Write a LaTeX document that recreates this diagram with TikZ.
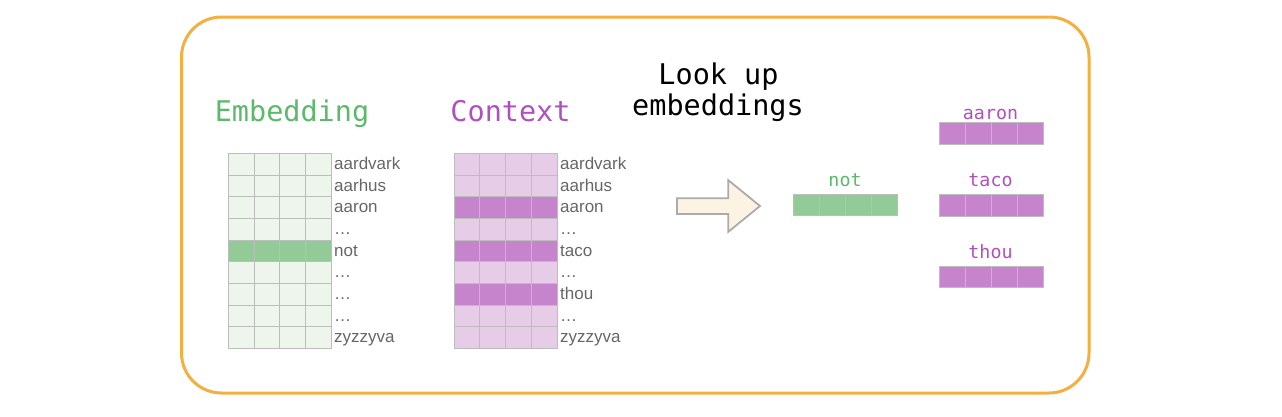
\documentclass[tikz,border=0pt]{standalone}
\usepackage{fontspec}
\setsansfont{Liberation Sans}
\newfontfamily\monofont{DejaVu Sans Mono}
\definecolor{boxorange}{HTML}{F5AF3F}
\definecolor{gridline}{HTML}{BDBDBD}
\definecolor{embLight}{HTML}{EEF5EC}
\definecolor{embDark}{HTML}{93CB98}
\definecolor{ctxLight}{HTML}{E6CCE6}
\definecolor{ctxDark}{HTML}{C584CB}
\definecolor{greenText}{HTML}{5CB96A}
\definecolor{purpleText}{HTML}{B050C0}
\definecolor{wordGray}{HTML}{666666}
\definecolor{arrowFill}{HTML}{FDF3E2}
\definecolor{arrowLine}{HTML}{ABABAB}
\tikzset{
  frame/.style={draw=boxorange, line width=3pt, rounded corners=40pt},
  cell/.style={draw=gridline, line width=0.8pt},
  word/.style={font=\sffamily\fontsize{17}{19}\selectfont, text=wordGray, inner sep=0pt, anchor=base west},
  title/.style={font=\monofont\fontsize{28.5}{32}\selectfont, inner sep=0pt, anchor=base},
  veclabel/.style={font=\monofont\fontsize{18.3}{20}\selectfont, inner sep=0pt, anchor=base},
  blockarrow/.style={draw=arrowLine, fill=arrowFill, line width=1.8pt, line join=miter},
}
\begin{document}
\begin{tikzpicture}[x=1pt,y=-1pt]
\useasboundingbox (0,0) rectangle (1282,416);
% frame
\draw[frame] (181.5,17) rectangle (1089,393);
% titles
\node[title, text=greenText] (embtitle) at (292,121.7) {Embedding};
\node[title, text=purpleText] (ctxtitle) at (510.5,121.7) {Context};
\node[title, text=black] (lookup1) at (718.5,84) {Look up};
\node[title, text=black] (lookup2) at (718,115.5) {embeddings};
% embedding matrix
\foreach \r in {0,...,8}{
  \foreach \c in {0,...,3}{
    \pgfmathsetmacro{\xx}{228.3+\c*25.7}
    \pgfmathsetmacro{\yy}{153.3+\r*21.67}
    \ifnum\r=4
      \draw[cell, fill=embDark] (\xx,\yy) rectangle ++(25.7,21.67);
    \else
      \draw[cell, fill=embLight] (\xx,\yy) rectangle ++(25.7,21.67);
    \fi
  }
}
\foreach \w [count=\i from 0] in {aardvark,aarhus,aaron,…,not,…,…,…,zyzzyva}{
  \node[word] (ew\i) at (334,153.3+\i*21.67+16.2) {\w};
}
% context matrix
\foreach \r in {0,...,8}{
  \foreach \c in {0,...,3}{
    \pgfmathsetmacro{\xx}{454+\c*25.8}
    \pgfmathsetmacro{\yy}{153.3+\r*21.67}
    \pgfmathtruncatemacro{\hl}{(\r==2)||(\r==4)||(\r==6)}
    \ifnum\hl=1
      \draw[cell, fill=ctxDark] (\xx,\yy) rectangle ++(25.8,21.67);
    \else
      \draw[cell, fill=ctxLight] (\xx,\yy) rectangle ++(25.8,21.67);
    \fi
  }
}
\foreach \w [count=\i from 0] in {aardvark,aarhus,aaron,…,taco,…,thou,…,zyzzyva}{
  \node[word] (cw\i) at (560,153.3+\i*21.67+16.2) {\w};
}
% block arrow
\draw[blockarrow] (677,198.3) -- (728.3,198.3) -- (728.3,180.2) -- (760,206) -- (728.3,231.8) -- (728.3,213.9) -- (677,213.9) -- cycle;
% not vector
\foreach \c in {0,...,3}{
  \draw[cell, fill=embDark] (793+\c*26,194.3) rectangle ++(26,21.4);
}
\node[veclabel, text=greenText] (notlabel) at (845,186) {not};
% context vectors
\foreach \w/\y/\b [count=\i] in {aaron/122.5/119.5, taco/194.5/186.7, thou/266.2/258.3}{
  \foreach \c in {0,...,3}{
    \draw[cell, fill=ctxDark] (939+\c*26,\y) rectangle ++(26,21.6);
  }
  \node[veclabel, text=purpleText] (vl\i) at (990.5,\b) {\w};
}
\end{tikzpicture}
\end{document}
